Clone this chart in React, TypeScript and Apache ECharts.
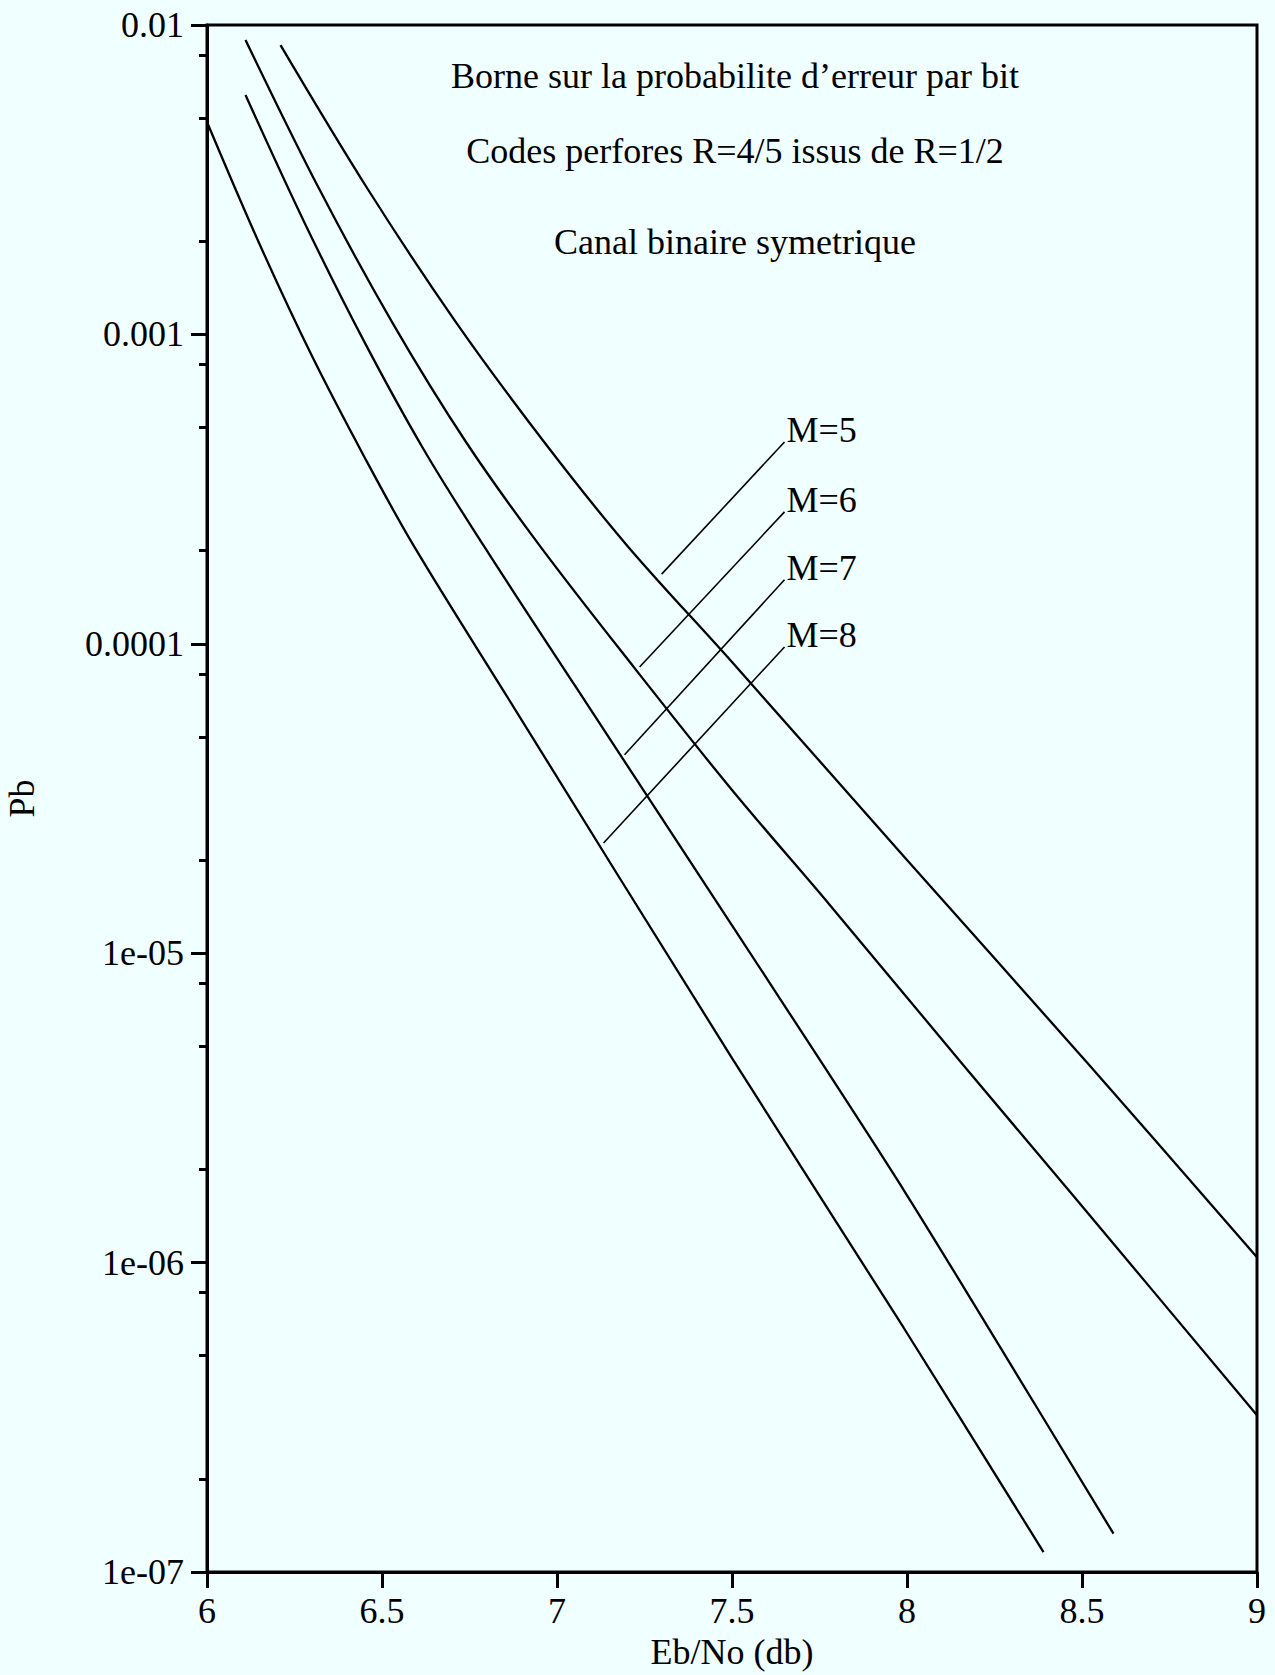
import React, { useEffect, useRef } from "react";
import * as echarts from "echarts";

// ---- Data (Eb/No in dB, Pb bit error probability bound) ----
const seriesNames = ["M=5", "M=6", "M=7", "M=8"];

const ebnoM5 = [6.21, 6.46, 6.71, 6.96, 7.2, 7.5, 8.0, 8.52, 9.0];
const pbM5 = [8.61e-3, 2.94e-3, 1.1e-3, 4.54e-4, 2.08e-4, 8.73e-5, 2.0e-5, 4.36e-6, 1.04e-6];

const ebnoM6 = [6.11, 6.32, 6.53, 6.74, 6.95, 7.22, 7.5, 7.78, 8.16, 8.48, 9.0];
const pbM6 = [8.95e-3, 2.96e-3, 1.09e-3, 4.49e-4, 2.08e-4, 8.39e-5, 3.37e-5, 1.43e-5, 4.36e-6, 1.62e-6, 3.21e-7];

const ebnoM7 = [6.11, 6.28, 6.45, 6.62, 6.79, 7.05, 7.5, 7.76, 8.0, 8.25, 8.59];
const pbM7 = [5.94e-3, 2.28e-3, 9.44e-4, 4.23e-4, 2.08e-4, 7.36e-5, 1.23e-5, 4.36e-6, 1.65e-6, 5.71e-7, 1.33e-7];

const ebnoM8 = [6.0, 6.15, 6.3, 6.45, 6.59, 6.86, 7.5, 7.99, 8.39];
const pbM8 = [4.86e-3, 1.96e-3, 8.51e-4, 4.01e-4, 2.08e-4, 6.68e-5, 4.58e-6, 6.17e-7, 1.16e-7];

// Axis ticks / labels
const xTicks = [6, 6.5, 7, 7.5, 8, 8.5, 9];
const yMajorTicks = [0.01, 0.001, 0.0001, 1e-5, 1e-6, 1e-7];
const yTickLabels = ["0.01", "0.001", "0.0001", "1e-05", "1e-06", "1e-07"];
const yMinorTicks = [
  0.008, 0.005, 0.002,
  0.0008, 0.0005, 0.0002,
  0.00008, 0.00005, 0.00002,
  0.000008, 0.000005, 0.000002,
  0.0000008, 0.0000005, 0.0000002,
];

// Title lines
const titleLines = [
  "Borne sur la probabilite d\u2019erreur par bit",
  "Codes perfores R=4/5 issus de R=1/2",
  "Canal binaire symetrique",
];

// Label leader lines (data coordinates: [Eb/No, Pb])
const leaderFrom = [
  [7.299, 1.68e-4],
  [7.236, 8.41e-5],
  [7.193, 4.38e-5],
  [7.133, 2.27e-5],
];
const leaderTo = [
  [7.65, 4.49e-4],
  [7.65, 2.67e-4],
  [7.65, 1.61e-4],
  [7.65, 9.77e-5],
];

const FONT = "Liberation Serif";

function pairs(xs: number[], ys: number[]) {
  return xs.map((x, i) => [x, ys[i]]);
}

export default function App() {
  const ref = useRef<HTMLDivElement>(null);

  useEffect(() => {
    if (!ref.current) return;
    const chart = echarts.init(ref.current, null, { renderer: "svg" });

    const allData = [
      pairs(ebnoM5, pbM5),
      pairs(ebnoM6, pbM6),
      pairs(ebnoM7, pbM7),
      pairs(ebnoM8, pbM8),
    ];

    const option: any = {
      animation: false,
      backgroundColor: "#F0FFFF",
      grid: {
        left: 207,
        top: 25,
        right: 18,
        bottom: 103,
        containLabel: false,
        outerBoundsMode: "none",
        show: true,
        borderColor: "#000",
        borderWidth: 3,
        backgroundColor: "transparent",
      },
      xAxis: {
        type: "value",
        min: 6,
        max: 9,
        interval: 0.5,
        name: "Eb/No (db)",
        nameLocation: "middle",
        nameGap: 55,
        nameTextStyle: { fontFamily: FONT, fontSize: 36, color: "#000" },
        axisLine: { show: true, lineStyle: { color: "#000", width: 3 } },
        axisTick: { show: true, inside: false, length: 16, lineStyle: { color: "#000", width: 3 } },
        axisLabel: {
          fontFamily: FONT,
          fontSize: 36,
          color: "#000",
          margin: 21,
          formatter: (v: number) => {
            const i = xTicks.findIndex((t) => Math.abs(t - v) < 1e-9);
            return i >= 0 ? String(xTicks[i]) : "";
          },
        },
        splitLine: { show: false },
      },
      yAxis: [
        {
          type: "log",
          logBase: 10,
          min: 1e-7,
          max: 0.01,
          splitNumber: 5,
          position: "left",
          name: "Pb",
          nameLocation: "middle",
          nameGap: 167,
          nameTextStyle: { fontFamily: FONT, fontSize: 36, color: "#000" },
          axisLine: { show: true, lineStyle: { color: "#000", width: 3 } },
          axisTick: { show: true, inside: false, length: 16, lineStyle: { color: "#000", width: 3 } },
          axisLabel: {
            fontFamily: FONT,
            fontSize: 36,
            color: "#000",
            margin: 23,
            formatter: (v: number) => {
              const i = yMajorTicks.findIndex(
                (t) => Math.abs(Math.log10(t) - Math.log10(v)) < 1e-6
              );
              return i >= 0 ? yTickLabels[i] : "";
            },
          },
          splitLine: { show: false },
        },
        {
          type: "log",
          logBase: 10,
          min: 1e-7,
          max: 0.01,
          position: "left",
          axisLine: { show: false },
          axisLabel: { show: false },
          axisTick: {
            show: true,
            inside: false,
            length: 8,
            customValues: yMinorTicks,
            lineStyle: { color: "#000", width: 3 },
          },
          splitLine: { show: false },
        },
      ],
      series: allData.map((d, i) => ({
        name: seriesNames[i],
        type: "line",
        data: d,
        yAxisIndex: 0,
        showSymbol: false,
        symbol: "none",
        smooth: 0.35,
        lineStyle: { color: "#000", width: 2.3 },
        z: 3,
      })),
    };

    chart.setOption(option);

    const graphics: any[] = [];
    const titleY = [76, 151, 242];
    titleLines.forEach((t, i) => {
      graphics.push({
        type: "text",
        x: 735,
        y: titleY[i],
        style: {
          text: t,
          fontFamily: FONT,
          fontSize: 36,
          fill: "#000",
          align: "center",
          verticalAlign: "middle",
        },
      });
    });

    seriesNames.forEach((name, i) => {
      const p1 = chart.convertToPixel({ xAxisIndex: 0, yAxisIndex: 0 }, leaderFrom[i]) as number[];
      const p2 = chart.convertToPixel({ xAxisIndex: 0, yAxisIndex: 0 }, leaderTo[i]) as number[];
      graphics.push({
        type: "line",
        shape: { x1: p1[0], y1: p1[1], x2: p2[0], y2: p2[1] },
        style: { stroke: "#000", lineWidth: 1.6 },
      });
      graphics.push({
        type: "text",
        x: p2[0] + 2,
        y: p2[1] - 12,
        style: {
          text: name,
          fontFamily: FONT,
          fontSize: 36,
          fill: "#000",
          align: "left",
          verticalAlign: "middle",
        },
      });
    });

    chart.setOption({ graphic: graphics });

    return () => {
      chart.dispose();
    };
  }, []);

  return (
    <div
      ref={ref}
      style={{
        position: "absolute",
        left: 0,
        top: 0,
        width: 1275,
        height: 1675,
        background: "#F0FFFF",
      }}
    />
  );
}
